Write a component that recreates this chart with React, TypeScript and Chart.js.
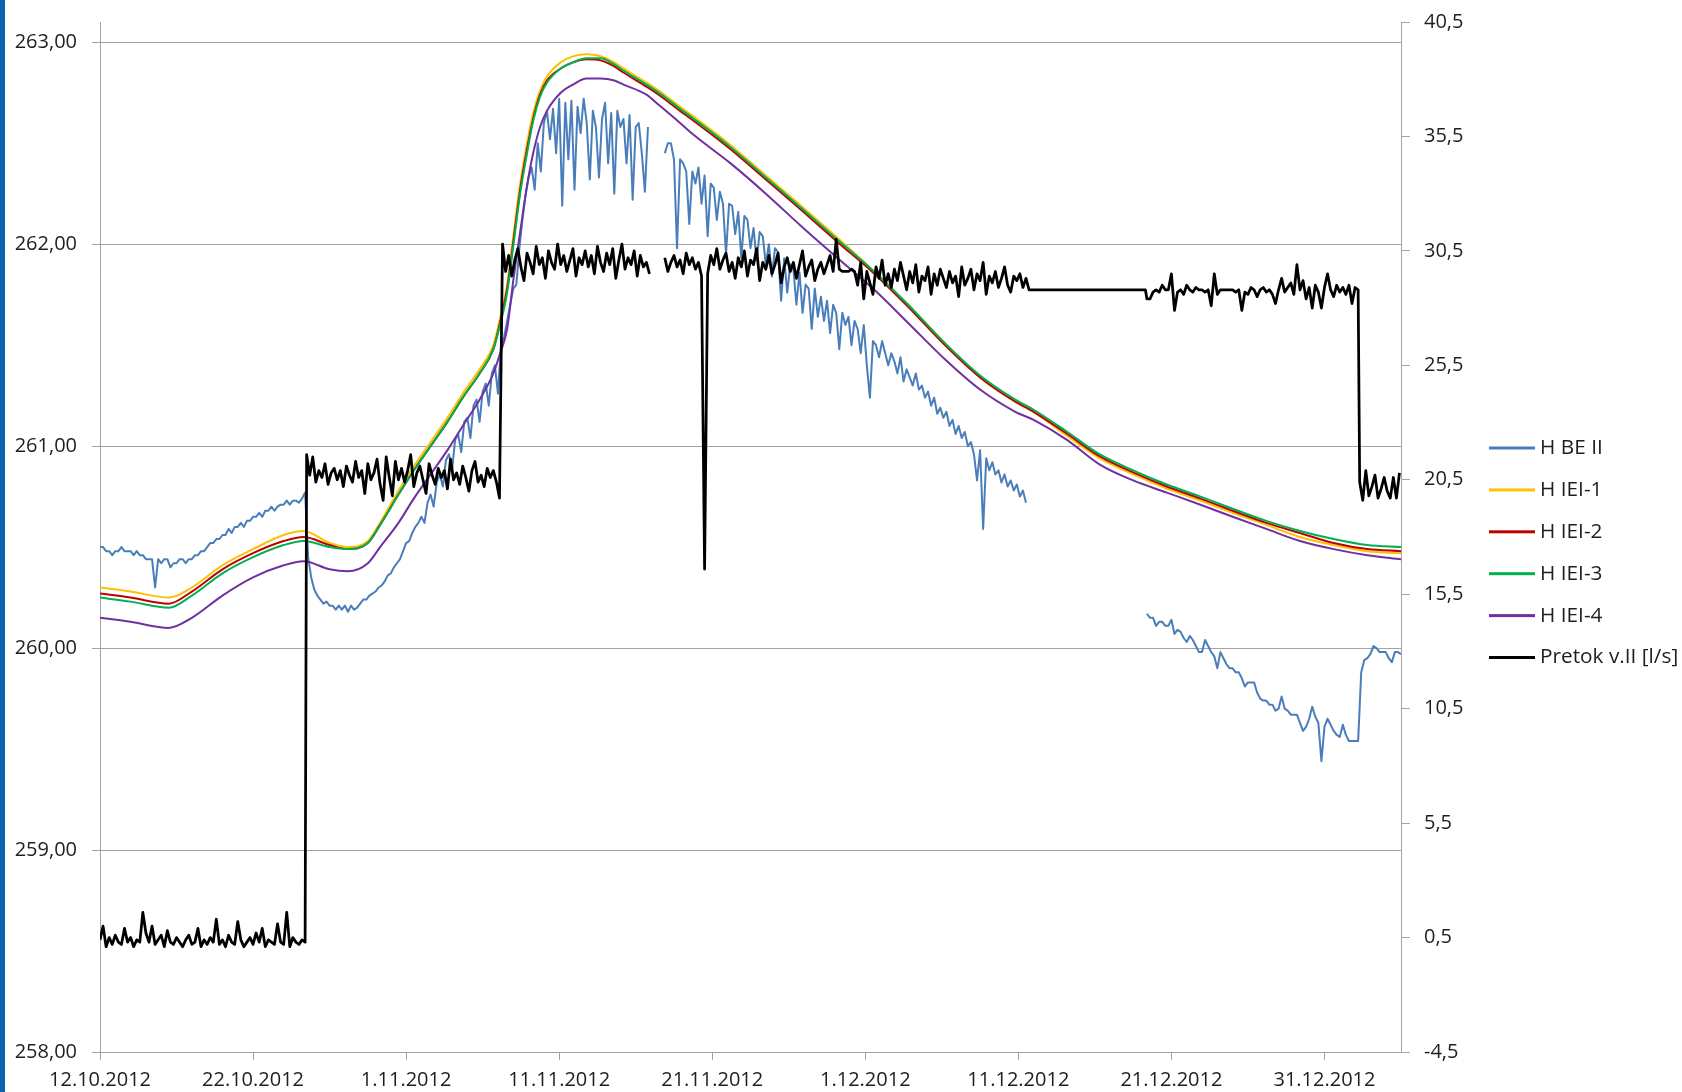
import React, { useEffect, useRef } from 'react';
import { Chart, registerables } from 'chart.js';

Chart.register(...registerables);

// ---------- axis / tick data ----------
const xTickDays = [0, 10, 20, 30, 40, 50, 60, 70, 80]; // days after 12.10.2012
const leftTicks = [258, 259, 260, 261, 262, 263];
const rightTicks = [-4.5, 0.5, 5.5, 10.5, 15.5, 20.5, 25.5, 30.5, 35.5, 40.5];
const seriesLabels = ['H BE II', 'H IEI-1', 'H IEI-2', 'H IEI-3', 'H IEI-4', 'Pretok v.II [l/s]'];

// ---------- smooth piezometer series (days, m a.s.l.) ----------
const smoothDays = [0, 2, 4.5, 6, 8, 10, 12, 13.3, 15, 16.2, 17.5, 18.3, 19.5, 20.5, 21.6, 22.7, 23.7, 24.8, 25.7, 26.1, 26.6, 27.0, 27.45, 27.9, 28.3, 28.75, 29.2, 30.1, 30.9, 31.8, 32.7, 33.6, 34.2, 35.7, 36.5, 37.9, 38.8, 41.2, 43.5, 45.8, 48.2, 50.5, 52.8, 55.2, 57.5, 59.8, 61.0, 63.2, 65.3, 67.5, 69.7, 71.9, 74.0, 76.2, 78.4, 80.6, 82.8, 85];

const iei1 = [260.30, 260.28, 260.25, 260.30, 260.41, 260.49, 260.56, 260.58, 260.52, 260.50,
  260.53, 260.62, 260.78, 260.90, 261.02, 261.14, 261.26, 261.38, 261.50, 261.62,
  261.80, 262.04, 262.30, 262.50, 262.65, 262.76, 262.83, 262.90, 262.93, 262.94,
  262.93, 262.90, 262.87, 262.80, 262.76, 262.68, 262.63, 262.49, 262.34, 262.19,
  262.03, 261.87, 261.70, 261.51, 261.34, 261.22, 261.17, 261.05, 260.94, 260.86,
  260.79, 260.73, 260.67, 260.61, 260.55, 260.51, 260.48, 260.47];

const iei2 = [260.27, 260.25, 260.22, 260.28, 260.39, 260.47, 260.53, 260.55, 260.51, 260.49,
  260.52, 260.61, 260.76, 260.88, 261.00, 261.12, 261.24, 261.36, 261.48, 261.60,
  261.78, 262.01, 262.27, 262.47, 262.62, 262.74, 262.81, 262.87, 262.90, 262.915,
  262.91, 262.88, 262.85, 262.78, 262.74, 262.66, 262.61, 262.47, 262.32, 262.17,
  262.01, 261.86, 261.69, 261.50, 261.34, 261.22, 261.17, 261.06, 260.95, 260.87,
  260.80, 260.74, 260.68, 260.62, 260.57, 260.52, 260.49, 260.48];

const iei3 = [260.25, 260.23, 260.20, 260.26, 260.37, 260.45, 260.51, 260.53, 260.50, 260.49,
  260.52, 260.61, 260.76, 260.88, 261.00, 261.12, 261.24, 261.36, 261.48, 261.59,
  261.76, 261.99, 262.25, 262.45, 262.61, 262.73, 262.80, 262.87, 262.90, 262.92,
  262.92, 262.89, 262.86, 262.79, 262.75, 262.67, 262.62, 262.48, 262.33, 262.18,
  262.02, 261.87, 261.70, 261.51, 261.35, 261.23, 261.18, 261.07, 260.96, 260.88,
  260.81, 260.75, 260.69, 260.63, 260.58, 260.54, 260.51, 260.50];

const iei4 = [260.15, 260.13, 260.10, 260.15, 260.26, 260.35, 260.41, 260.43, 260.39, 260.38,
  260.42, 260.50, 260.62, 260.74, 260.86, 260.98, 261.10, 261.23, 261.36, 261.45,
  261.58, 261.82, 262.06, 262.29, 262.45, 262.58, 262.66, 262.75, 262.79, 262.82,
  262.82, 262.81, 262.79, 262.74, 262.69, 262.60, 262.54, 262.40, 262.25, 262.09,
  261.93, 261.78, 261.61, 261.43, 261.28, 261.17, 261.13, 261.03, 260.91, 260.83,
  260.77, 260.71, 260.65, 260.59, 260.53, 260.49, 260.46, 260.44];

// ---------- H BE II (logged every 0.2 day, with gaps) ----------
const beStep = 0.2;
const beA_start = 0;
const beA = [260.50, 260.50, 260.48, 260.48, 260.46, 260.48, 260.48, 260.50, 260.48, 260.48,
  260.48, 260.46, 260.48, 260.46, 260.46, 260.44, 260.44, 260.44, 260.30, 260.44,
  260.42, 260.44, 260.44, 260.40, 260.42, 260.42, 260.44, 260.44, 260.42, 260.44,
  260.44, 260.46, 260.46, 260.48, 260.48, 260.50, 260.52, 260.52, 260.54, 260.54,
  260.56, 260.56, 260.59, 260.57, 260.60, 260.60, 260.62, 260.60, 260.63, 260.63,
  260.65, 260.65, 260.67, 260.65, 260.68, 260.68, 260.70, 260.68, 260.70, 260.71,
  260.71, 260.73, 260.71, 260.73, 260.73, 260.72, 260.74, 260.77];
const beB_start = 13.6;
const beB = [260.45, 260.35, 260.29, 260.26, 260.24, 260.22, 260.23, 260.21, 260.21, 260.19,
  260.21, 260.19, 260.21, 260.18, 260.21, 260.19, 260.20, 260.22, 260.24, 260.24,
  260.26, 260.27, 260.28, 260.30, 260.31, 260.33, 260.36, 260.37, 260.40, 260.42,
  260.44, 260.48, 260.52, 260.53, 260.57, 260.60, 260.62, 260.65, 260.62, 260.72,
  260.76, 260.70, 260.82, 260.86, 260.80, 260.93, 260.96, 260.88, 261.03, 261.06,
  260.97, 261.12, 261.14, 261.04, 261.20, 261.23, 261.12, 261.27, 261.31, 261.20,
  261.36, 261.40, 261.26, 261.50];
const beC_start = 26.4;
const beC = [261.54, 261.62, 261.70, 261.78, 261.80, 261.98, 262.12, 262.24, 262.33, 262.38,
  262.27, 262.50, 262.36, 262.60, 262.66, 262.52, 262.67, 262.45, 262.72, 262.19,
  262.70, 262.42, 262.71, 262.27, 262.68, 262.55, 262.72, 262.60, 262.32, 262.66,
  262.58, 262.33, 262.62, 262.70, 262.40, 262.65, 262.25, 262.66, 262.58, 262.62,
  262.40, 262.64, 262.22, 262.58, 262.60, 262.45, 262.26, 262.58];
const beD_start = 36.9;
const beD = [262.45, 262.50, 262.50, 262.42, 261.98, 262.42, 262.40, 262.36, 262.10, 262.36,
  262.30, 262.38, 262.20, 262.34, 262.04, 262.30, 262.28, 262.12, 262.26, 262.20,
  261.95, 262.20, 262.19, 262.05, 262.16, 261.93, 262.14, 262.12, 261.98, 262.08,
  261.92, 262.06, 262.04, 261.90, 262.00, 261.84, 261.98, 261.96, 261.72, 261.93,
  261.76, 261.90, 261.88, 261.70, 261.86, 261.66, 261.80, 261.78, 261.58, 261.78,
  261.64, 261.74, 261.62, 261.72, 261.56, 261.70, 261.66, 261.48, 261.66, 261.60,
  261.64, 261.50, 261.62, 261.58, 261.46, 261.60, 261.40, 261.24, 261.52, 261.50,
  261.44, 261.52, 261.46, 261.40, 261.46, 261.42, 261.36, 261.44, 261.32, 261.38,
  261.34, 261.30, 261.36, 261.28, 261.30, 261.24, 261.27, 261.20, 261.24, 261.16,
  261.19, 261.14, 261.17, 261.10, 261.13, 261.06, 261.10, 261.04, 261.07, 261.00,
  261.02, 260.96, 260.83, 260.98, 260.59, 260.94, 260.88, 260.92, 260.86, 260.88,
  260.82, 260.86, 260.80, 260.83, 260.78, 260.81, 260.75, 260.78, 260.72];
const beE_start = 68.4;
const beE = [260.17, 260.15, 260.15, 260.11, 260.13, 260.13, 260.11, 260.11, 260.14, 260.07,
  260.09, 260.08, 260.05, 260.03, 260.06, 260.04, 260.01, 259.98, 259.98, 260.04,
  260.01, 259.98, 259.96, 259.90, 259.98, 259.95, 259.92, 259.90, 259.90, 259.88,
  259.88, 259.85, 259.81, 259.83, 259.83, 259.83, 259.78, 259.75, 259.74, 259.74,
  259.72, 259.72, 259.69, 259.70, 259.76, 259.70, 259.69, 259.67, 259.67, 259.67,
  259.63, 259.59, 259.61, 259.65, 259.71, 259.66, 259.63, 259.44, 259.61, 259.65,
  259.62, 259.59, 259.57, 259.56, 259.62, 259.57, 259.54, 259.54, 259.54, 259.54,
  259.88, 259.94, 259.95, 259.97, 260.01, 260.00, 259.98, 259.98, 259.98, 259.95,
  259.93, 259.98, 259.98, 259.97];

// ---------- Pretok v.II [l/s] (logged every 0.2 day) ----------
const prStep = 0.2;
const prA_start = 0;
const prA = [0.4, 1.0, 0.1, 0.5, 0.2, 0.6, 0.3, 0.2, 0.9, 0.3,
  0.5, 0.1, 0.4, 0.3, 1.6, 0.7, 0.3, 1.0, 0.2, 0.4,
  0.6, 0.1, 0.8, 0.3, 0.2, 0.5, 0.3, 0.1, 0.4, 0.6,
  0.2, 0.3, 0.9, 0.1, 0.4, 0.2, 0.5, 0.3, 1.3, 0.2,
  0.4, 0.1, 0.6, 0.3, 0.2, 1.2, 0.4, 0.1, 0.3, 0.5,
  0.2, 0.7, 0.3, 0.9, 0.1, 0.4, 0.3, 0.2, 1.1, 0.3,
  0.2, 1.6, 0.1, 0.5, 0.3, 0.2, 0.4, 0.3];
const prB_start = 13.5;
const prB = [21.6, 20.7, 21.5, 20.4, 20.9, 20.6, 21.2, 20.3, 20.8, 21.0,
  20.5, 20.9, 20.2, 21.1, 20.7, 20.4, 21.3, 20.6, 20.9, 19.9,
  21.2, 20.5, 20.8, 21.4, 20.3, 19.6, 21.5, 20.6, 19.8, 21.3,
  20.5, 21.0, 20.4, 20.9, 21.6, 20.2, 20.8, 21.1, 20.5, 19.9,
  21.2, 20.7, 20.3, 21.0, 20.6, 20.9, 20.1, 21.4, 20.5, 20.8,
  20.3, 21.1, 20.6, 20.0, 20.9, 21.3, 20.4, 20.7, 20.2, 21.0,
  20.6, 20.9, 20.4, 19.7];
const prC_start = 26.3;
const prC = [30.8, 29.6, 30.3, 29.4, 30.1, 30.6, 29.8, 29.2, 30.4, 30.0,
  29.5, 30.7, 29.9, 30.2, 29.3, 30.5, 30.0, 29.7, 30.8, 29.9,
  30.3, 29.6, 30.1, 30.6, 29.4, 30.2, 29.9, 30.5, 29.8, 30.3,
  29.5, 30.7, 30.0, 29.6, 30.4, 29.9, 30.6, 29.3, 30.1, 30.8,
  29.7, 30.2, 29.9, 30.5, 29.4, 30.3, 29.8, 30.0, 29.5];
const prD_start = 36.9;
const prD = [30.2, 29.6, 30.0, 30.3, 29.8, 30.1, 29.5, 30.4, 29.9, 30.2, 29.7, 30.0, 29.4,
  16.6,
  29.5, 30.3, 29.9, 30.6, 29.7, 30.1, 30.4, 29.6, 30.0, 29.3,
  30.2, 29.8, 30.5, 29.4, 30.1, 29.9, 30.6, 29.2, 30.0, 29.7,
  30.3, 29.5, 29.9, 30.4, 29.1, 29.8, 30.2, 29.6, 30.0, 29.3,
  29.9, 30.5, 29.4, 29.8, 30.1, 29.2, 29.7, 30.0, 29.5, 29.9,
  30.3, 29.6,
  31.0,
  29.7, 29.6, 29.6, 29.6, 29.7, 29.6,
  29.0, 30.0, 28.4, 29.6, 29.1, 28.6, 29.8, 29.3, 30.1, 29.0,
  29.5, 28.9, 29.7, 29.2, 30.0, 29.4, 28.8, 29.6, 29.1, 29.9,
  28.7, 29.4, 29.2, 29.8, 28.6, 29.5, 29.0, 29.7, 29.3, 28.9,
  29.6, 29.1, 29.4, 28.5, 29.8, 29.0, 29.3, 29.7, 28.8, 29.5,
  29.2, 30.0, 28.6, 29.4, 29.1, 29.6, 28.9, 29.3, 29.8, 29.0,
  28.7, 29.4, 29.2, 29.5, 28.9, 29.3];
const prE_days = [60.7, 68.3];
const prE = [28.8, 28.8];
const prF_start = 68.4;
const prF = [28.4, 28.4, 28.7, 28.8, 28.7, 29.0, 28.8, 28.8, 29.5, 27.9,
  28.7, 28.8, 28.6, 29.0, 28.8, 28.7, 28.9, 28.8, 28.8, 28.7,
  28.8, 28.1, 29.5, 28.6, 28.8, 28.8, 28.8, 28.8, 28.8, 28.7,
  28.8, 27.9, 28.7, 28.6, 28.9, 28.8, 28.5, 28.8, 28.9, 28.7,
  28.8, 28.6, 28.2, 28.8, 29.3, 28.7, 28.9, 29.1, 28.6, 29.9,
  28.8, 29.2, 28.4, 28.9, 28.0, 29.0, 28.7, 28.0, 28.9, 29.5,
  28.8, 28.5, 29.0, 28.7, 28.9, 28.6, 29.0, 28.2, 28.9, 28.8];
const prG_start = 82.3;
const prG = [20.4, 19.6, 20.9, 19.8, 20.2, 20.7, 19.7, 20.1, 20.6, 20.0, 19.7, 20.6, 19.7, 20.8];

// ---------- helpers ----------
type Pt = { x: number; y: number | null };
const logged = (start: number, step: number, vals: number[]): Pt[] =>
  vals.map((v, i) => ({ x: +(start + i * step).toFixed(3), y: v }));
const paired = (days: number[], vals: number[]): Pt[] => days.map((d, i) => ({ x: d, y: vals[i] }));
const gap = (x: number): Pt[] => [{ x, y: null }];

// ---------- style ----------
const FONT = "'Open Sans'";
const TEXT = '#1e1e1e';
const GRID = '#a3a3a3';
const FONT_SIZE = 20;
const CANVAS_W = 1682;
const CANVAS_H = 1092;
const PLOT_RIGHT = 1401;
const Y2_WIDTH = 76;
const LEGEND_X = 1489;
const LEGEND_LINE = 46;
const LEGEND_TOP = 448;
const LEGEND_STEP = 41.9;
const LEGEND_FONT = 20.8;

const fmtDate = (v: number) => {
  const d = new Date(2012, 9, 12 + Math.round(v));
  return `${d.getDate()}.${d.getMonth() + 1}.${d.getFullYear()}`;
};

const sideLegend = {
  id: 'sideLegend',
  afterDraw(chart: any) {
    const ctx = chart.ctx as CanvasRenderingContext2D;
    ctx.save();
    ctx.font = `${LEGEND_FONT}px ${FONT}`;
    ctx.textBaseline = 'middle';
    ctx.textAlign = 'left';
    chart.data.datasets.forEach((ds: any, i: number) => {
      const y = LEGEND_TOP + i * LEGEND_STEP;
      ctx.fillStyle = ds.borderColor;
      ctx.fillRect(LEGEND_X, y - 1.5, LEGEND_LINE, 3);
      ctx.fillStyle = TEXT;
      ctx.fillText(ds.label, LEGEND_X + LEGEND_LINE + 5, y);
    });
    ctx.restore();
  },
};

export default function App() {
  const ref = useRef<HTMLCanvasElement | null>(null);

  useEffect(() => {
    if (!ref.current) return;
    const beData = [
      ...logged(beA_start, beStep, beA),
      ...logged(beB_start, beStep, beB),
      ...logged(beC_start, beStep, beC),
      ...gap(36.4),
      ...logged(beD_start, beStep, beD),
      ...gap(64.5),
      ...logged(beE_start, beStep, beE),
    ];
    const prData = [
      ...logged(prA_start, prStep, prA),
      ...logged(prB_start, prStep, prB),
      ...logged(prC_start, prStep, prC),
      ...gap(36.4),
      ...logged(prD_start, prStep, prD),
      ...paired(prE_days, prE),
      ...logged(prF_start, prStep, prF),
      ...logged(prG_start, prStep, prG),
    ];
    const smoothDs = (label: string, vals: number[], color: string, order: number) => ({
      label,
      data: paired(smoothDays, vals),
      borderColor: color,
      backgroundColor: color,
      borderWidth: 2,
      pointRadius: 0,
      cubicInterpolationMode: 'monotone' as const,
      borderJoinStyle: 'round' as const,
      yAxisID: 'y',
      order,
    });
    const noPad = (s: any) => { s.paddingTop = 0; s.paddingBottom = 0; };

    const chart = new Chart(ref.current, {
      type: 'line',
      data: {
        datasets: [
          {
            label: seriesLabels[0], data: beData, borderColor: '#4A7EBB', backgroundColor: '#4A7EBB',
            borderWidth: 2, pointRadius: 0, spanGaps: false, borderJoinStyle: 'round', yAxisID: 'y', order: 5,
          },
          smoothDs(seriesLabels[1], iei1, '#FFC000', 4),
          smoothDs(seriesLabels[2], iei2, '#C00000', 3),
          smoothDs(seriesLabels[3], iei3, '#00B050', 2),
          smoothDs(seriesLabels[4], iei4, '#7030A0', 1),
          {
            label: seriesLabels[5], data: prData, borderColor: '#000000', backgroundColor: '#000000',
            borderWidth: 2.75, pointRadius: 0, spanGaps: false, borderJoinStyle: 'round', yAxisID: 'y2', order: 0,
          },
        ],
      } as any,
      options: {
        responsive: false,
        maintainAspectRatio: false,
        animation: false,
        events: [],
        layout: { padding: { top: 22, bottom: 0, left: 0, right: CANVAS_W - PLOT_RIGHT - Y2_WIDTH } },
        plugins: {
          tooltip: { enabled: false },
          legend: { display: false },
        },
        scales: {
          x: {
            type: 'linear',
            min: 0,
            max: 85,
            afterBuildTicks: (s: any) => { s.ticks = xTickDays.map((v) => ({ value: v })); },
            afterFit: (s: any) => { s.height = 40; s.paddingLeft = 0; s.paddingRight = 0; },
            grid: { drawOnChartArea: false, drawTicks: true, tickLength: 8, color: GRID },
            border: { color: GRID, width: 1 },
            ticks: {
              autoSkip: false, maxRotation: 0, minRotation: 0, padding: 8, color: TEXT,
              font: { family: FONT, size: FONT_SIZE },
              callback: (v: any) => fmtDate(Number(v)),
            },
          },
          y: {
            type: 'linear',
            position: 'left',
            min: 258,
            max: 263.1,
            afterBuildTicks: (s: any) => { s.ticks = leftTicks.map((v) => ({ value: v })); },
            afterFit: (s: any) => { s.width = 100; noPad(s); },
            grid: { color: GRID, lineWidth: 1, drawTicks: true, tickLength: 8 },
            border: { color: GRID, width: 1 },
            ticks: {
              padding: 15, color: TEXT, font: { family: FONT, size: FONT_SIZE },
              callback: (v: any) => Number(v).toFixed(2).replace('.', ','),
            },
          },
          y2: {
            type: 'linear',
            position: 'right',
            min: -4.5,
            max: 40.5,
            afterBuildTicks: (s: any) => { s.ticks = rightTicks.map((v) => ({ value: v })); },
            afterFit: (s: any) => { s.width = Y2_WIDTH; noPad(s); },
            grid: { drawOnChartArea: false, drawTicks: true, tickLength: 9, color: GRID },
            border: { color: GRID, width: 1 },
            ticks: {
              padding: 14, color: TEXT, font: { family: FONT, size: FONT_SIZE },
              callback: (v: any) => Number(v).toFixed(1).replace('.', ','),
            },
          },
        },
      } as any,
      plugins: [sideLegend],
    });
    return () => chart.destroy();
  }, []);

  return (
    <div style={{ position: 'fixed', left: 0, top: 0, width: CANVAS_W, height: CANVAS_H, background: '#ffffff', overflow: 'hidden' }}>
      <canvas ref={ref} width={CANVAS_W} height={CANVAS_H} style={{ display: 'block', width: CANVAS_W, height: CANVAS_H }} />
      <div style={{ position: 'absolute', left: 0, top: 0, width: 5, height: CANVAS_H, background: '#0b63b2' }} />
    </div>
  );
}
